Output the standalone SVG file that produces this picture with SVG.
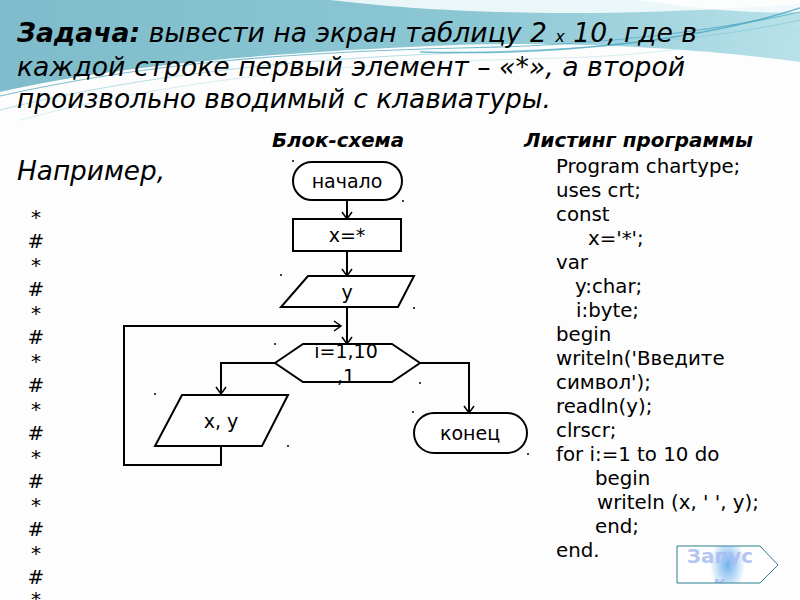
<svg xmlns="http://www.w3.org/2000/svg" width="800" height="600" viewBox="0 0 800 600">
<defs>
<linearGradient id="teal" x1="0" y1="0" x2="1" y2="0">
<stop offset="0" stop-color="#7fbccb"/>
<stop offset="0.6" stop-color="#8cc7d4"/>
<stop offset="1" stop-color="#b8e2ea"/>
</linearGradient>
<radialGradient id="btn" cx="0.5" cy="0.5" r="0.5" fx="0.5" fy="0.5" gradientTransform="translate(0.5 0.5) scale(0.35 1.6) translate(-0.5 -0.5)">
<stop offset="0" stop-color="#6fb2ee"/>
<stop offset="1" stop-color="#ffffff"/>
</radialGradient>
<marker id="arr" markerWidth="16" markerHeight="16" viewBox="-10 -8 12 16" refX="0" refY="0" orient="auto" markerUnits="userSpaceOnUse">
<path d="M-7,-5 L0,0 L-7,5" fill="none" stroke="#000" stroke-width="1.5"/>
</marker>
<clipPath id="hexclip"><rect x="270" y="345" width="160" height="60"/></clipPath>
<clipPath id="btnclip"><polygon points="677,546 760,546 778,565 760,583 677,583"/></clipPath>
</defs>
<style>
.shape{fill:#fff;stroke:#000;stroke-width:2}
.lbl{font-family:"DejaVu Sans",Verdana,sans-serif;font-size:19px;fill:#000;text-anchor:middle}
.code{font-family:"DejaVu Sans",Verdana,sans-serif;font-size:19.8px;fill:#000}
.conn{fill:none;stroke:#000;stroke-width:2}
.title{font-family:"DejaVu Sans",Verdana,sans-serif;font-size:26.5px;font-style:italic;fill:#000}
.head{font-family:"DejaVu Sans",Verdana,sans-serif;font-size:19px;font-style:italic;font-weight:bold;fill:#000}
.sym{font-family:"DejaVu Sans",Verdana,sans-serif;font-size:20px;fill:#000;text-anchor:middle}
.dot{fill:#000}
</style>

<rect x="0" y="0" width="800" height="600" fill="#fdfdfd"/>

<g id="background">
<path d="M0,0 H800 V62 C700,48 560,40 430,46 C300,52 130,62 0,92 Z" fill="url(#teal)"/>
<path d="M330,0 C430,12 580,20 800,4 V0 Z" fill="#f4fbfc" opacity="0.9"/>
<path d="M640,0 C700,10 760,14 800,12 V0 Z" fill="#ffffff" opacity="0.8"/>
<path d="M0,96 C150,62 300,52 460,48 C600,46 720,30 800,12" fill="none" stroke="#5aaec4" stroke-width="1.2" opacity="0.8"/>
<path d="M0,110 C160,70 320,58 480,52 C620,48 730,36 800,20" fill="none" stroke="#7cc3d2" stroke-width="0.8" opacity="0.7"/>
<path d="M420,52 C560,56 700,40 800,8" fill="none" stroke="#3d9fbc" stroke-width="1.5" opacity="0.7"/>
<path d="M20,120 C200,72 380,62 560,58 C660,56 740,40 800,30" fill="none" stroke="#a8d8e2" stroke-width="0.8" opacity="0.6"/>
</g>

<g id="title">
<text class="title" x="17" y="42" textLength="680" lengthAdjust="spacingAndGlyphs"><tspan font-weight="bold">Задача:</tspan> вывести на экран таблицу 2 <tspan font-size="16px">x</tspan> 10, где в</text>
<text class="title" x="17" y="76" textLength="668" lengthAdjust="spacingAndGlyphs">каждой строке первый элемент – «*», а второй</text>
<text class="title" x="17" y="108" textLength="534" lengthAdjust="spacingAndGlyphs">произвольно вводимый с клавиатуры.</text>
</g>

<text class="head" x="272" y="147" textLength="132" lengthAdjust="spacingAndGlyphs">Блок-схема</text>
<text class="head" x="524" y="147" textLength="229" lengthAdjust="spacingAndGlyphs">Листинг программы</text>
<text class="title" x="17" y="180" textLength="148" lengthAdjust="spacingAndGlyphs">Например,</text>

<g id="example">
<text class="sym" x="36" y="224">*</text>
<text class="sym" x="36" y="248">#</text>
<text class="sym" x="36" y="272">*</text>
<text class="sym" x="36" y="296">#</text>
<text class="sym" x="36" y="320">*</text>
<text class="sym" x="36" y="344">#</text>
<text class="sym" x="36" y="368">*</text>
<text class="sym" x="36" y="392">#</text>
<text class="sym" x="36" y="416">*</text>
<text class="sym" x="36" y="440">#</text>
<text class="sym" x="36" y="464">*</text>
<text class="sym" x="36" y="488">#</text>
<text class="sym" x="36" y="512">*</text>
<text class="sym" x="36" y="536">#</text>
<text class="sym" x="36" y="560">*</text>
<text class="sym" x="36" y="584">#</text>
<text class="sym" x="36" y="606">*</text>
</g>

<g id="connectors">
<path class="conn" d="M347,200 V219" marker-end="url(#arr)"/>
<path class="conn" d="M347,251 V276" marker-end="url(#arr)"/>
<path class="conn" d="M347,307 V344" marker-end="url(#arr)"/>
<path class="conn" d="M221,445 V465 H124 V326 H341" marker-end="url(#arr)"/>
<path class="conn" d="M275,363 H221 V394" marker-end="url(#arr)"/>
<path class="conn" d="M420,363 H469 V413" marker-end="url(#arr)"/>
</g>

<g id="start">
<rect class="shape" x="293" y="162" width="109" height="38" rx="19" ry="19"/>
<text class="lbl" x="347" y="188">начало</text>
<circle class="dot" cx="293" cy="161" r="1"/>
<circle class="dot" cx="403" cy="201" r="1"/>
</g>

<g id="assign">
<rect class="shape" x="293" y="219" width="108" height="32"/>
<text class="lbl" x="347" y="242">x=*</text>
</g>

<g id="input">
<polygon class="shape" points="308,276 414,276 398,307 281,307"/>
<text class="lbl" x="347" y="299">y</text>
<circle class="dot" cx="281" cy="275" r="1"/>
<circle class="dot" cx="414" cy="308" r="1"/>
</g>

<g id="loop">
<polygon class="shape" points="275,363 303,344 392,344 420,363 392,382 303,382"/>
<g clip-path="url(#hexclip)">
<text class="lbl" x="346" y="358" font-size="20px">i=1,10</text>
<text class="lbl" x="346" y="383" font-size="20px">,1</text>
</g>
<circle class="dot" cx="275" cy="344" r="1"/>
<circle class="dot" cx="420" cy="383" r="1"/>
</g>

<g id="output">
<polygon class="shape" points="182,395 288,395 262,446 155,446"/>
<text class="lbl" x="221" y="428">x, y</text>
<circle class="dot" cx="155" cy="394" r="1"/>
<circle class="dot" cx="288" cy="446" r="1"/>
</g>

<g id="end">
<rect class="shape" x="414" y="413" width="113" height="40" rx="20" ry="20"/>
<text class="lbl" x="470" y="440">конец</text>
<circle class="dot" cx="413" cy="412" r="1"/>
<circle class="dot" cx="528" cy="454" r="1"/>
</g>

<g id="listing">
<text class="code" x="556" y="173">Program chartype;</text>
<text class="code" x="556" y="197">uses crt;</text>
<text class="code" x="556" y="221">const</text>
<text class="code" x="588" y="245">x='*';</text>
<text class="code" x="556" y="269">var</text>
<text class="code" x="575" y="293">y:char;</text>
<text class="code" x="576" y="317">i:byte;</text>
<text class="code" x="556" y="341">begin</text>
<text class="code" x="556" y="365">writeln('Введите</text>
<text class="code" x="556" y="389">символ');</text>
<text class="code" x="556" y="413">readln(y);</text>
<text class="code" x="556" y="437">clrscr;</text>
<text class="code" x="556" y="461">for i:=1 to 10 do</text>
<text class="code" x="595" y="485">begin</text>
<text class="code" x="597" y="509">writeln (x, ' ', y);</text>
<text class="code" x="595" y="533">end;</text>
<text class="code" x="556" y="557">end.</text>
</g>

<g id="button">
<polygon points="677,546 760,546 778,565 760,583 677,583" fill="url(#btn)"/>
<g clip-path="url(#btnclip)">
<text x="720" y="563" font-family="DejaVu Sans, sans-serif" font-size="20px" font-weight="bold" fill="#aabcf0" text-anchor="middle" opacity="0.85">Запус</text>
<text x="720" y="590" font-family="DejaVu Sans, sans-serif" font-size="20px" font-weight="bold" fill="#aabcf0" text-anchor="middle" opacity="0.85">к</text>
</g>
<polygon points="677,546 760,546 778,565 760,583 677,583" fill="none" stroke="#2b7f8f" stroke-width="1"/>
</g>
</svg>
